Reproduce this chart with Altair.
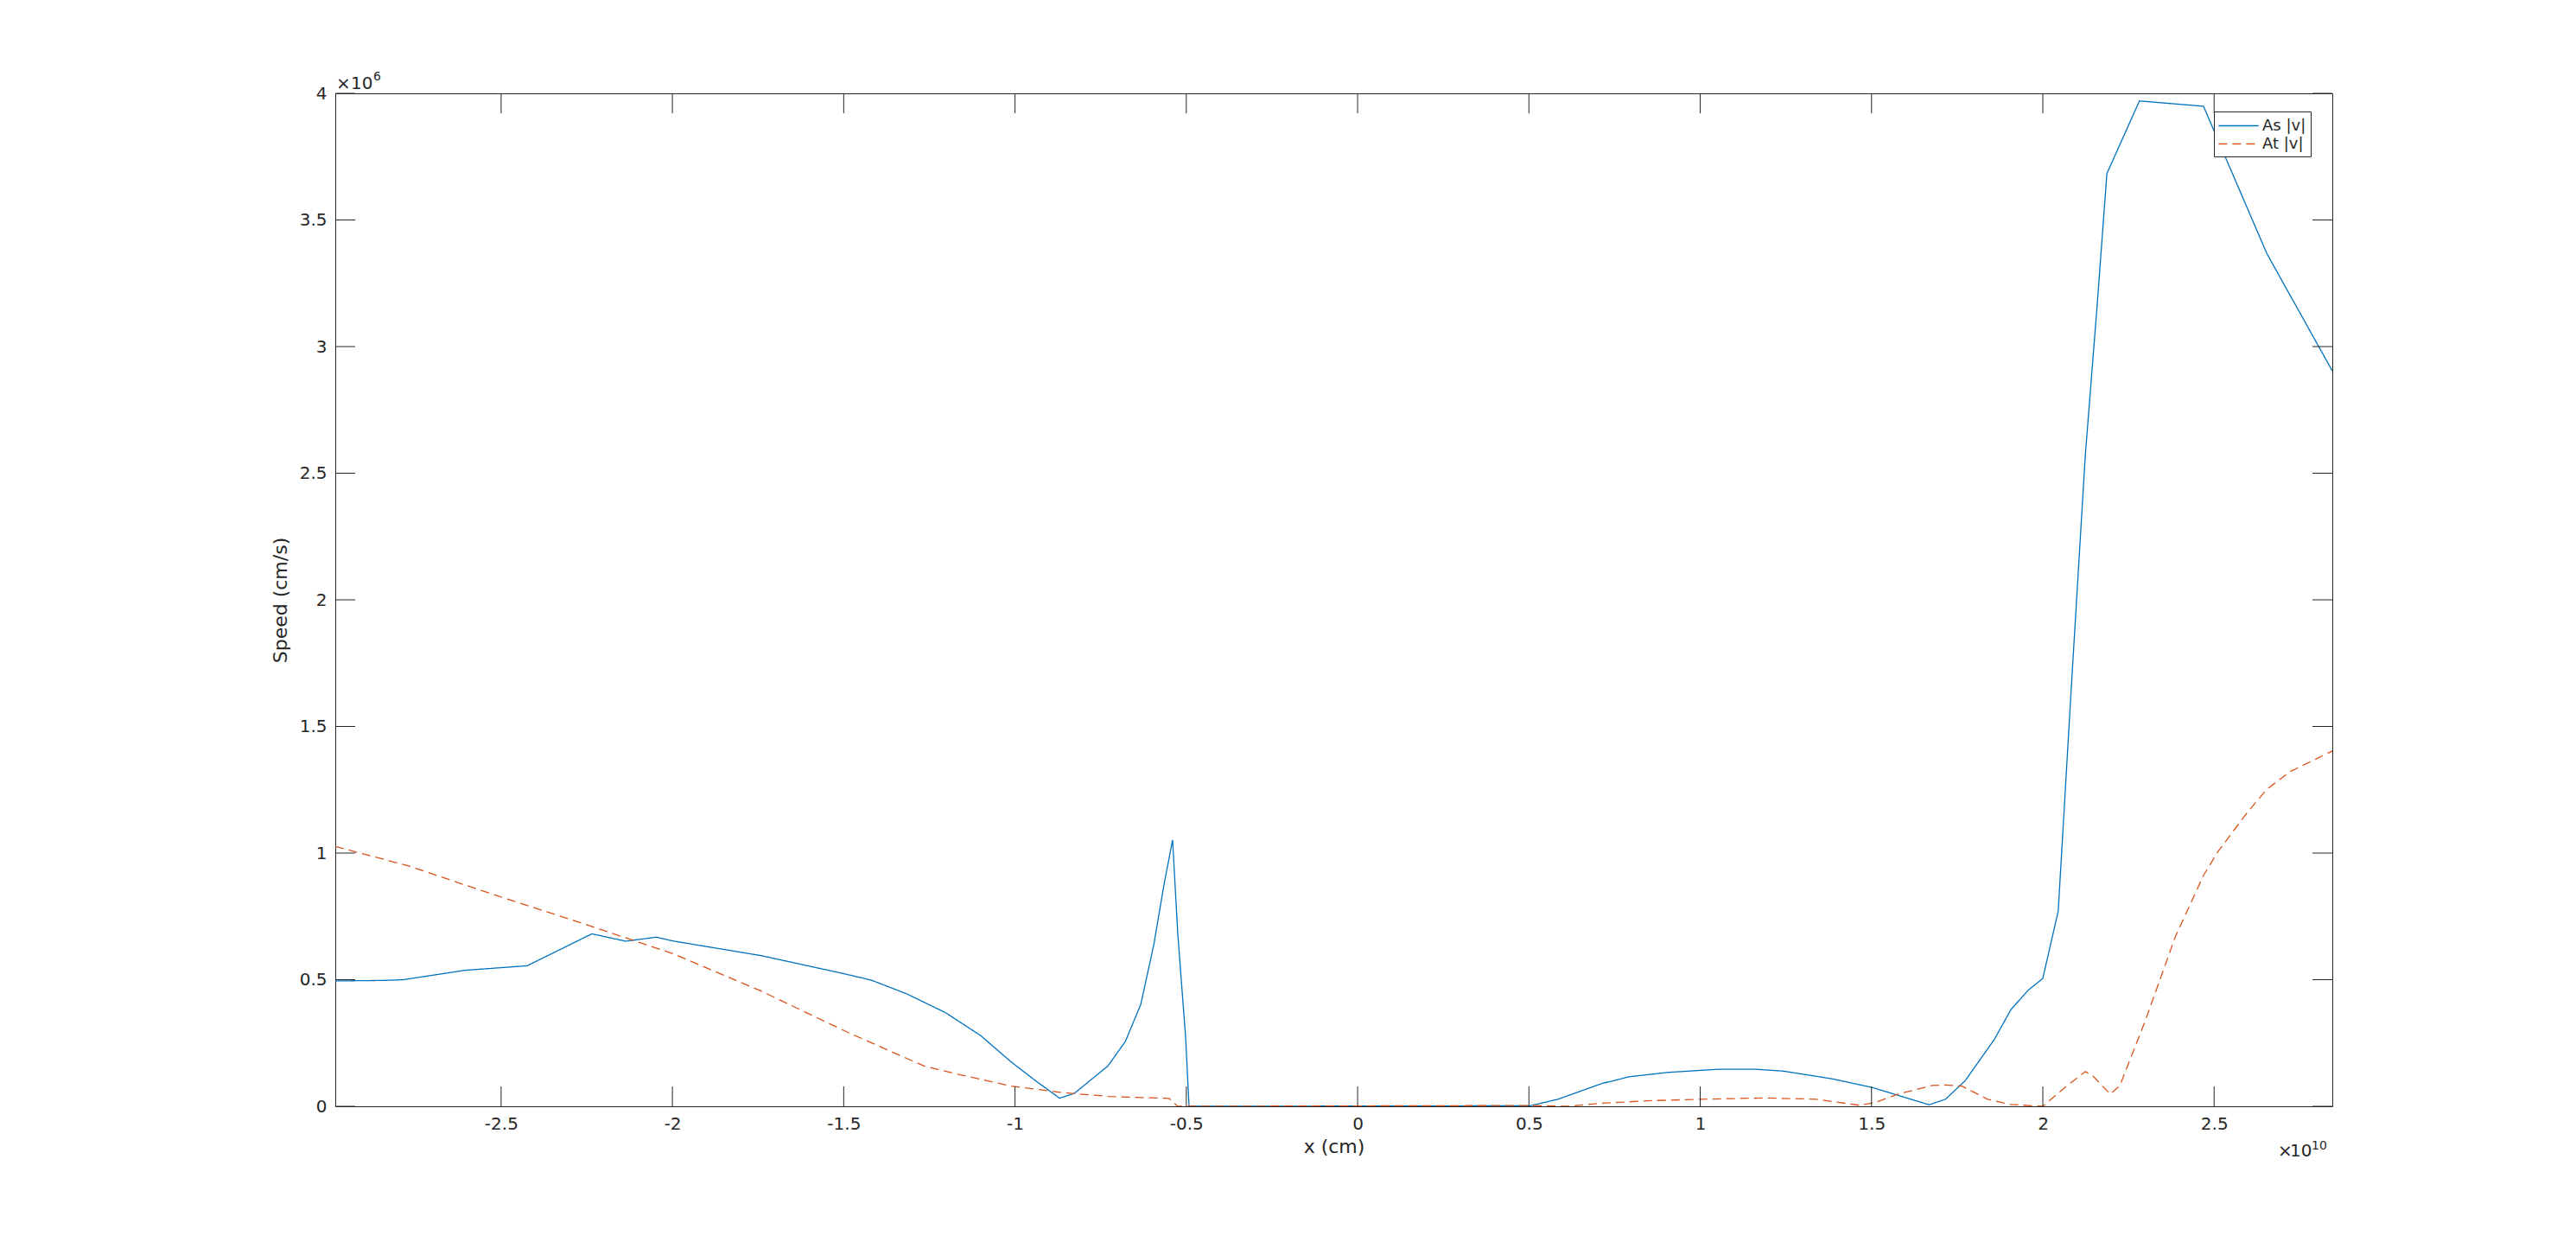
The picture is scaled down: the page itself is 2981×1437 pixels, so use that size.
import altair as alt
import pandas as pd

# x in units of 1e10 cm, speed in units of 1e6 cm/s (as shown on the axes)
series_names = ["As |v|", "At |v|"]
series_colors = ["#0072BD", "#D95319"]
series_dashes = [[1, 0], [10, 6]]

x_as = [-2.984, -2.843, -2.785, -2.606, -2.424, -2.235, -2.136, -2.047, -1.999, -1.741,
        -1.497, -1.419, -1.316, -1.203, -1.100, -1.012, -0.936, -0.870, -0.827, -0.729,
        -0.678, -0.633, -0.595, -0.565, -0.540, -0.525, -0.502, -0.492, 0.503, 0.585,
        0.711, 0.789, 0.906, 1.050, 1.165, 1.243, 1.387, 1.503, 1.668, 1.716,
        1.774, 1.813, 1.859, 1.907, 1.957, 2.000, 2.045, 2.083, 2.124, 2.159,
        2.187, 2.282, 2.469, 2.654, 2.845]
v_as = [0.495, 0.497, 0.500, 0.537, 0.555, 0.681, 0.652, 0.668, 0.653, 0.595,
        0.523, 0.498, 0.444, 0.370, 0.279, 0.176, 0.097, 0.032, 0.051, 0.159,
        0.256, 0.402, 0.637, 0.876, 1.052, 0.683, 0.273, 0.000, 0.002, 0.028,
        0.089, 0.116, 0.134, 0.146, 0.146, 0.139, 0.108, 0.074, 0.006, 0.028,
        0.102, 0.177, 0.265, 0.382, 0.458, 0.505, 0.771, 1.650, 2.570, 3.170,
        3.683, 3.970, 3.949, 3.367, 2.904]

x_at = [-2.984, -2.772, -2.515, -2.257, -1.999, -1.741, -1.485, -1.265, -1.162, -1.011,
        -0.868, -0.726, -0.550, -0.525, 0.503, 0.615, 0.711, 0.850, 1.001, 1.193,
        1.339, 1.465, 1.513, 1.579, 1.677, 1.716, 1.764, 1.839, 1.907, 2.000,
        2.065, 2.124, 2.146, 2.197, 2.225, 2.300, 2.386, 2.469, 2.512, 2.595,
        2.654, 2.721, 2.845]
v_at = [1.026, 0.950, 0.833, 0.720, 0.603, 0.455, 0.290, 0.159, 0.125, 0.080,
        0.055, 0.039, 0.031, 0.000, 0.003, 0.000, 0.012, 0.022, 0.028, 0.033,
        0.028, 0.004, 0.016, 0.049, 0.082, 0.084, 0.080, 0.028, 0.007, 0.000,
        0.075, 0.137, 0.120, 0.048, 0.082, 0.341, 0.667, 0.912, 1.007, 1.157,
        1.252, 1.321, 1.403]

x_ticks = [-2.5, -2, -1.5, -1, -0.5, 0, 0.5, 1, 1.5, 2, 2.5]
y_ticks = [0, 0.5, 1, 1.5, 2, 2.5, 3, 3.5, 4]
x_domain = [-2.984, 2.845]
y_domain = [0, 4]

W, H = 2311, 1172
TICK = 23
INK = "#262626"
FONT = "DejaVu Sans"

df = pd.concat([
    pd.DataFrame({"x": x_as, "v": v_as, "series": series_names[0]}),
    pd.DataFrame({"x": x_at, "v": v_at, "series": series_names[1]}),
], ignore_index=True)

xs = alt.Scale(domain=x_domain, nice=False, zero=False)
ys = alt.Scale(domain=y_domain, nice=False, zero=False)
x_axis = alt.Axis(values=x_ticks, title="x (cm)", labelExpr="toString(datum.value)")
y_axis = alt.Axis(values=y_ticks, title="Speed (cm/s)", labelExpr="toString(datum.value)")

legend = alt.Legend(title=None, orient="none", legendX=2174, legendY=21,
                    symbolType="M-2.2,0H2.2", symbolSize=441, symbolStrokeWidth=1.3,
                    symbolOffset=12, labelOffset=16,
                    labelFontSize=18, labelFont=FONT, labelColor=INK,
                    strokeColor=INK, fillColor="white", padding=5, rowPadding=0,
                    cornerRadius=0)

lines = alt.Chart(df).mark_line(strokeWidth=1.3, clip=True).encode(
    x=alt.X("x:Q", scale=xs, axis=x_axis),
    y=alt.Y("v:Q", scale=ys, axis=y_axis),
    color=alt.Color("series:N", scale=alt.Scale(domain=series_names, range=series_colors), legend=legend),
    strokeDash=alt.StrokeDash("series:N", scale=alt.Scale(domain=series_names, range=series_dashes), legend=legend),
)

xt = pd.DataFrame({"t": x_ticks})
yt = pd.DataFrame({"t": y_ticks})
rule = dict(color=INK, strokeWidth=1)
xb = alt.Chart(xt).mark_rule(**rule).encode(x=alt.X("t:Q", scale=xs, axis=x_axis),
                                            y=alt.value(H), y2=alt.value(H - TICK))
xtp = alt.Chart(xt).mark_rule(**rule).encode(x=alt.X("t:Q", scale=xs, axis=x_axis),
                                             y=alt.value(0), y2=alt.value(TICK))
yl = alt.Chart(yt).mark_rule(**rule).encode(y=alt.Y("t:Q", scale=ys, axis=y_axis),
                                            x=alt.value(0), x2=alt.value(TICK))
yr = alt.Chart(yt).mark_rule(**rule).encode(y=alt.Y("t:Q", scale=ys, axis=y_axis),
                                            x=alt.value(W - TICK), x2=alt.value(W))

# exponent annotations (Matlab-style axis multipliers)
ann_text = ["×", "10", "6", "×", "10", "10"]
ann_size = [20, 20, 14, 20, 20, 14]
ann_x = [1, 18, 44, 2248, 2262, 2287]
ann_y = [-5, -5, -15, 1230, 1230, 1222]
ann = pd.DataFrame({"t": ann_text, "s": ann_size, "px": ann_x, "py": ann_y})
annot = alt.Chart(ann).mark_text(
    align="left", baseline="alphabetic", font=FONT, color=INK
).encode(
    x=alt.X("px:Q", scale=None, axis=None),
    y=alt.Y("py:Q", scale=None, axis=None),
    text="t:N",
    size=alt.Size("s:Q", scale=None, legend=None),
)

chart = alt.layer(lines, xb, xtp, yl, yr).properties(
    width=W, height=H,
).resolve_scale(x="shared")

chart = alt.layer(lines, xb, xtp, yl, yr, annot).resolve_scale(
    x="independent", y="independent"
) if False else alt.layer(lines, xb, xtp, yl, yr)

# annotation layer using pixel values directly
ann_layers = []
for t, s, px, py in zip(ann_text, ann_size, ann_x, ann_y):
    ann_layers.append(
        alt.Chart(pd.DataFrame({"t": [t]})).mark_text(
            align="left", baseline="alphabetic", font=FONT, color=INK, fontSize=s
        ).encode(x=alt.value(px), y=alt.value(py), text="t:N")
    )

chart = alt.layer(lines, xb, xtp, yl, yr, *ann_layers).properties(
    width=W, height=H,
    autosize=alt.AutoSizeParams(type="none"),
    padding={"left": 380, "top": 100, "right": 60, "bottom": 100},
    background="white",
).configure_view(stroke=INK, strokeWidth=1).configure_axis(
    labelFont=FONT, labelFontSize=20, labelColor=INK, labelPadding=10,
    titleFont=FONT, titleFontSize=22, titleColor=INK, titleFontWeight="normal",
    domain=False, ticks=False, grid=False,
).configure_axisX(titlePadding=6).configure_axisY(titlePadding=10)

chart.save("out.html", embed_options={"renderer": "svg", "actions": False})
